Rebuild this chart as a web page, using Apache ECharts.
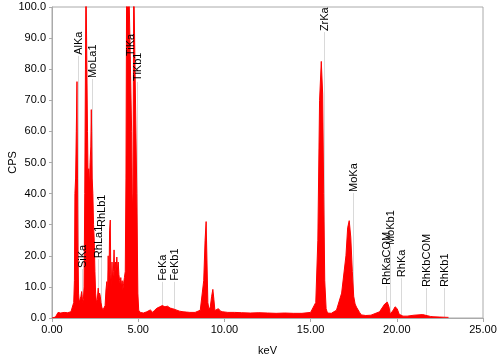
<!DOCTYPE html>
<html>
<head>
<meta charset="utf-8">
<script src="https://cdn.jsdelivr.net/npm/echarts@6/dist/echarts.min.js"></script>
<style>html,body{margin:0;padding:0;background:#fff;}#c{width:500px;height:354px;}</style>
</head>
<body>
<div id="c"></div>
<script>
// Spectrum: energy (keV) and counts (CPS)
var energyKeV = [0.00,0.10,0.20,0.30,0.35,0.50,0.70,0.90,1.10,1.20,1.26,1.30,1.33,1.37,1.41,1.45,1.48,1.51,1.54,1.58,1.63,1.68,1.72,1.75,1.78,1.82,1.86,1.90,1.94,1.97,1.99,2.03,2.06,2.09,2.13,2.17,2.21,2.25,2.28,2.30,2.33,2.37,2.41,2.45,2.49,2.53,2.58,2.63,2.68,2.72,2.76,2.80,2.84,2.89,2.95,3.02,3.08,3.13,3.18,3.22,3.26,3.30,3.34,3.38,3.41,3.44,3.48,3.52,3.56,3.60,3.64,3.68,3.72,3.76,3.80,3.84,3.88,3.92,3.95,3.99,4.03,4.07,4.11,4.15,4.20,4.25,4.29,4.33,4.37,4.45,4.55,4.62,4.66,4.70,4.74,4.78,4.82,4.86,4.92,4.98,5.03,5.07,5.12,5.30,5.50,5.70,5.85,5.95,6.10,6.25,6.40,6.55,6.70,6.85,7.00,7.20,7.40,7.60,7.80,8.00,8.30,8.60,8.80,8.88,8.94,8.99,9.04,9.10,9.18,9.26,9.33,9.39,9.45,9.52,9.65,9.78,9.90,10.20,10.60,11.00,11.50,12.00,12.50,13.00,13.50,14.00,14.50,15.00,15.30,15.42,15.52,15.62,15.70,15.76,15.82,15.90,15.98,16.06,16.20,16.50,16.80,17.05,17.15,17.24,17.33,17.42,17.50,17.58,17.66,17.74,17.84,17.94,18.04,18.20,18.50,19.00,19.30,19.45,19.55,19.62,19.70,19.80,19.90,20.02,20.14,20.24,20.36,20.60,21.00,21.50,21.80,21.95,22.10,22.50,23.00,24.00,25.00];
var countsCPS = [0.0,0.3,0.3,0.4,1.8,1.6,1.8,1.7,2.0,2.4,5,12,40,45,60,76,45,20,8,5,6,7,8.5,7,5,6,10,40,80,110,110,110,60,45,48,42,50,55,67,60,45,40,30,25,15,8,5,6,9.6,6,8,7,5,3.5,2.5,2.2,4,9,11.7,7,20,10,28,31.5,14,10,18,12,15,21.9,13,18,16,19.6,15,18,14,12,11,13,10,12,9,11,13,15,45,110,110,110,110,60,35,40,110,110,110,110,40,8,2.5,2.2,1.8,1.6,2.0,2.6,1.8,2.5,3.2,3.6,4.0,3.6,3.8,3.2,3.0,2.6,2.2,2.0,1.9,1.8,1.8,2.5,12,25,31,18,5,2.8,3.5,7,9.2,6,2.4,2.3,3.0,2.2,2.0,1.8,1.8,1.7,1.6,1.7,1.6,1.5,1.6,1.5,1.5,1.8,5,25,70,82.5,72,40,12,3,1.6,1.4,1.5,2.5,8,20,29,31.3,26,15,7,4.5,3.5,3.0,1.8,1.0,0.8,0.8,0.9,2.0,4.5,5.1,3.5,1.2,1.5,2.6,3.6,3.0,1.2,0.7,0.6,0.6,0.9,1.1,0.7,0.5,0.4,0.3,0.2];

// Peak identification labels
var peakNames = ['AlKa','SiKa','MoLa1','RhLa1','RhLb1','TiKa','TiKb1','FeKa','FeKb1','ZrKa','MoKa','RhKaCOM','MoKb1','RhKa','RhKbCOM','RhKb1'];
var peakKeV   = [1.486,1.740,2.293,2.697,2.834,4.511,4.932,6.404,7.058,15.775,17.479,19.36,19.607,20.216,21.72,22.724];
var labelCPS  = [84.0,15.4,76.5,18.6,28.6,83.6,75.6,11.3,11.3,91.6,39.9,10.0,22.8,12.5,9.3,9.3];

var xTicks = {min:0, max:25, interval:5};
var yTicks = {min:0, max:100, interval:10};

var spectrum = energyKeV.map(function(e,i){return [e, countsCPS[i]];});
var peaks = peakKeV.map(function(e,i){return [e, labelCPS[i], peakNames[i]];});

var chart = echarts.init(document.getElementById('c'), null, {renderer:'canvas'});
var font = 'Liberation Sans, Arial, sans-serif';
chart.setOption({
  animation:false,
  backgroundColor:'#fff',
  grid:{left:52, right:17, top:7, bottom:36, show:true, borderColor:'#aaa', borderWidth:1,
        containLabel:false, outerBoundsMode:'none'},
  xAxis:{
    type:'value', min:xTicks.min, max:xTicks.max, interval:xTicks.interval,
    name:'keV', nameLocation:'middle', nameGap:27, nameMoveOverlap:false,
    nameTextStyle:{color:'#000', fontSize:11, fontFamily:font},
    axisLine:{show:true, lineStyle:{color:'#aaa'}},
    axisTick:{show:true, length:4, lineStyle:{color:'#aaa'}},
    axisLabel:{color:'#000', fontSize:11, fontFamily:font, margin:6, formatter:function(v){return v.toFixed(2);}},
    splitLine:{show:false}
  },
  yAxis:{
    type:'value', min:yTicks.min, max:yTicks.max, interval:yTicks.interval,
    name:'CPS', nameLocation:'middle', nameGap:34, nameRotate:90, nameMoveOverlap:false,
    nameTextStyle:{color:'#000', fontSize:11, fontFamily:font},
    axisLine:{show:true, lineStyle:{color:'#aaa'}},
    axisTick:{show:true, length:3, lineStyle:{color:'#aaa'}},
    axisLabel:{color:'#000', fontSize:11, fontFamily:font, margin:6, formatter:function(v){return v.toFixed(1);}},
    splitLine:{show:false}
  },
  series:[
    {
      type:'custom', z:1, silent:true, clip:true,
      data:peaks,
      renderItem:function(params, api){
        var top = api.coord([api.value(0), api.value(1)]);
        var bot = api.coord([api.value(0), 0]);
        return {type:'line', shape:{x1:Math.round(top[0])+0.5, y1:top[1]-1, x2:Math.round(top[0])+0.5, y2:bot[1]},
                style:{stroke:'#d9d9d9', lineWidth:1}};
      }
    },
    {
      type:'line', z:2, data:spectrum, symbol:'none', silent:true,
      lineStyle:{color:'#ff0000', width:1},
      areaStyle:{color:'#ff0000', opacity:1},
      clip:true
    },
    {
      type:'custom', z:3, silent:true, clip:false,
      data:peaks,
      renderItem:function(params, api){
        var top = api.coord([api.value(0), api.value(1)]);
        var name = peakNames[params.dataIndex];
        return {type:'text', x:Math.round(top[0])+0.5, y:top[1]-2, rotation:Math.PI/2,
                style:{text:name, x:0, y:0, align:'left', verticalAlign:'middle', fill:'#000', font:'11px ' + font}};
      }
    }
  ]
});
</script>
</body>
</html>
